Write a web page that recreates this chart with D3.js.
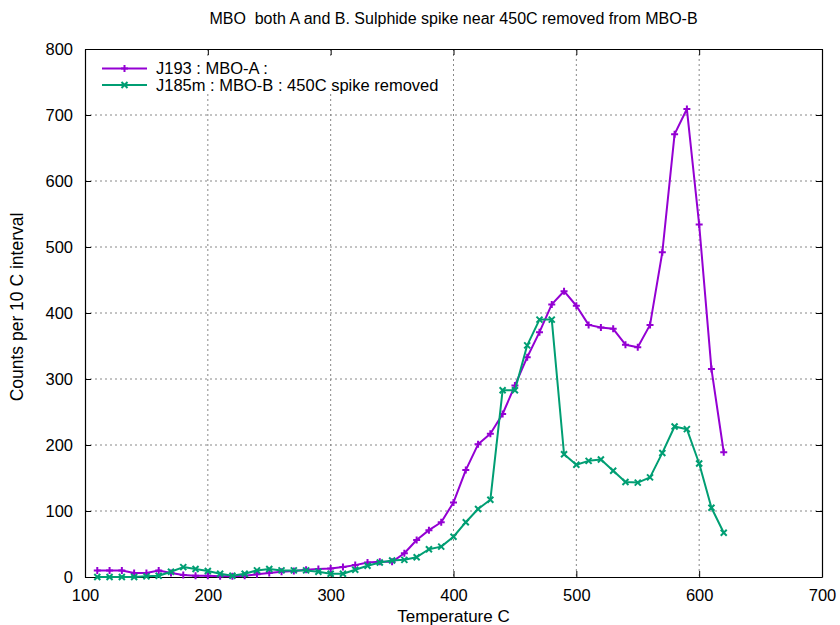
<!DOCTYPE html>
<html>
<head>
<meta charset="utf-8">
<script src="https://cdn.jsdelivr.net/npm/d3@7"></script>
<style>
  body { margin: 0; background: #fff; }
  text { font-family: "Liberation Sans", Arial, sans-serif; fill: #000; }
</style>
</head>
<body>
<div id="chart"></div>
<script>
// data
var temps = d3.range(110, 621, 10);
var mboA = [10, 10, 10, 6, 6, 10, 6, 3, 2, 2, 1, 1, 2, 4, 6, 8, 9, 11, 12, 13,
            15, 18, 22, 23, 23, 36, 56, 71, 83, 113, 162, 201, 217, 247, 290, 333, 371, 413, 433, 411,
            382, 378, 376, 352, 348, 382, 492, 671, 709, 534, 315, 189];
var mboB = [0, 0, 0, 0, 1, 2, 8, 15, 12, 9, 5, 2, 5, 10, 12, 10, 10, 10, 8, 5,
            5, 11, 17, 22, 25, 26, 30, 42, 46, 61, 83, 103, 117, 283, 283, 351, 390, 390, 186, 170,
            176, 178, 161, 144, 143, 151, 188, 228, 224, 172, 105, 67];
var xTicks = [100, 200, 300, 400, 500, 600, 700];
var yTicks = [0, 100, 200, 300, 400, 500, 600, 700, 800];
var seriesNames = ["J193 : MBO-A :", "J185m : MBO-B : 450C spike removed"];
var seriesColors = ["#9400d3", "#009e73"];

var svgWidth = 840, svgHeight = 625;
var margin = {top: 49, right: 18, bottom: 48, left: 85};
var chartWidth = svgWidth - margin.left - margin.right;
var chartHeight = svgHeight - margin.top - margin.bottom;

var svg = d3.select("#chart").append("svg")
  .attr("width", svgWidth)
  .attr("height", svgHeight);

var chartGroup = svg.append("g")
  .attr("transform", `translate(${margin.left}, ${margin.top})`);

var xScale = d3.scaleLinear().domain([100, 700]).range([0, chartWidth]);
var yScale = d3.scaleLinear().domain([0, 800]).range([chartHeight, 0]);

// grid lines (dotted grey)
chartGroup.append("g")
  .selectAll("line").data(xTicks.slice(1, -1)).enter()
  .append("line")
  .attr("x1", d => xScale(d)).attr("x2", d => xScale(d))
  .attr("y1", 0).attr("y2", chartHeight)
  .attr("stroke", "#888").attr("stroke-width", 1)
  .attr("stroke-dasharray", "2,3");
chartGroup.append("g")
  .selectAll("line").data(yTicks.slice(1, -1)).enter()
  .append("line")
  .attr("x1", 0).attr("x2", chartWidth)
  .attr("y1", d => yScale(d)).attr("y2", d => yScale(d))
  .attr("stroke", "#888").attr("stroke-width", 1)
  .attr("stroke-dasharray", "2,3");

// axes (ticks pointing inward, mirrored)
var bottomAxis = d3.axisBottom(xScale).tickValues(xTicks).tickSizeInner(-6).tickSizeOuter(0).tickPadding(12);
var leftAxis = d3.axisLeft(yScale).tickValues(yTicks).tickSizeInner(-6).tickSizeOuter(0).tickPadding(12);
var topAxis = d3.axisTop(xScale).tickValues(xTicks).tickSizeInner(-6).tickSizeOuter(0).tickFormat("");
var rightAxis = d3.axisRight(yScale).tickValues(yTicks).tickSizeInner(-6).tickSizeOuter(0).tickFormat("");

chartGroup.append("g").attr("transform", `translate(0, ${chartHeight})`).call(bottomAxis);
chartGroup.append("g").call(leftAxis);
chartGroup.append("g").call(topAxis);
chartGroup.append("g").attr("transform", `translate(${chartWidth}, 0)`).call(rightAxis);

chartGroup.selectAll(".domain").attr("stroke", "#000").attr("stroke-width", 1.2);
chartGroup.selectAll(".tick line").attr("stroke", "#000");
chartGroup.selectAll(".tick text")
  .style("font-size", "16.5px")
  .style("font-family", "'Liberation Sans', Arial, sans-serif")
  .attr("fill", "#000");

// opaque key box
chartGroup.append("rect")
  .attr("x", 8).attr("y", 8)
  .attr("width", 355).attr("height", 36)
  .attr("fill", "#fff");

// series
var allSeries = [mboA, mboB];
var line = d3.line()
  .x((d, i) => xScale(temps[i]))
  .y(d => yScale(d));

function marker(g, type, color, size) {
  var s = size;
  var p = type === "plus"
    ? `M${-s},0L${s},0M0,${-s}L0,${s}`
    : `M${-s},${-s}L${s},${s}M${-s},${s}L${s},${-s}`;
  g.append("path").attr("d", p).attr("stroke", color).attr("stroke-width", 2).attr("fill", "none");
}

allSeries.forEach((vals, k) => {
  var color = seriesColors[k];
  chartGroup.append("path")
    .datum(vals)
    .attr("d", line)
    .attr("fill", "none")
    .attr("stroke", color)
    .attr("stroke-width", 2)
    .attr("stroke-linejoin", "round");
  vals.forEach((v, i) => {
    var g = chartGroup.append("g")
      .attr("transform", `translate(${xScale(temps[i])}, ${yScale(v)})`);
    marker(g, k === 0 ? "plus" : "cross", color, k === 0 ? 3.5 : 3);
  });
});

// legend
seriesNames.forEach((name, k) => {
  var ly = 19.5 + k * 16.5;
  chartGroup.append("line")
    .attr("x1", 17).attr("x2", 62)
    .attr("y1", ly).attr("y2", ly)
    .attr("stroke", seriesColors[k]).attr("stroke-width", 2);
  var g = chartGroup.append("g").attr("transform", `translate(39.5, ${ly})`);
  marker(g, k === 0 ? "plus" : "cross", seriesColors[k], k === 0 ? 3.5 : 3);
  chartGroup.append("text")
    .attr("x", 71).attr("y", ly + 5.5)
    .style("font-size", "16.5px")
    .text(name);
});

// title and axis labels
svg.append("text")
  .attr("x", margin.left + chartWidth / 2).attr("y", 24)
  .attr("text-anchor", "middle")
  .style("font-size", "16px")
  .style("white-space", "pre")
  .text("MBO  both A and B. Sulphide spike near 450C removed from MBO-B");

svg.append("text")
  .attr("x", margin.left + chartWidth / 2).attr("y", 622)
  .attr("text-anchor", "middle")
  .style("font-size", "17px")
  .text("Temperature C");

svg.append("text")
  .attr("transform", `translate(23, 307) rotate(-90)`)
  .attr("text-anchor", "middle")
  .style("font-size", "17.5px")
  .text("Counts per 10 C interval");
</script>
</body>
</html>
